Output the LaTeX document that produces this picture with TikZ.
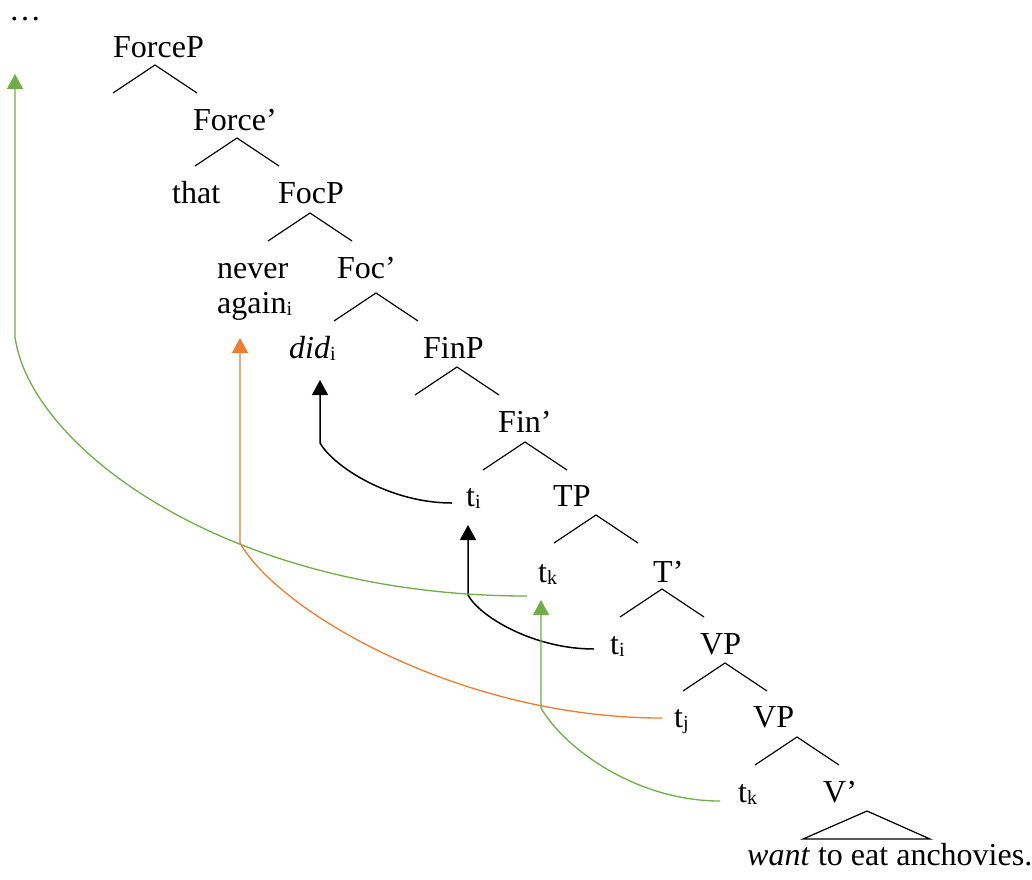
\documentclass[tikz,border=0pt]{standalone}
\usepackage{fontspec}
\setmainfont{Liberation Serif}
\usetikzlibrary{arrows.meta}
\definecolor{movegreen}{RGB}{112,173,71}
\definecolor{moveorange}{RGB}{237,125,49}
\newcommand\subidx[1]{\raisebox{-2pt}{\fontsize{20}{20}\selectfont #1}}

\begin{document}
\begin{tikzpicture}[x=1pt, y=-1pt, font=\fontsize{32}{38}\selectfont,
    word/.style={anchor=base west, inner sep=0pt},
    branch/.style={line width=1.2pt},
    move/.style={-{Triangle[width=16pt,length=15pt]}, line width=1.5pt}]
  \useasboundingbox (0,0) rectangle (1032,879);

  % 定义节点
  \node[word] (dots) at (9,20) {…};
  \node[word] (ForceP) at (113,57) {ForceP};
  \node[word] (Forcebar) at (193,130) {Force’};
  \node[word] (that) at (172,203) {that};
  \node[word] (FocP) at (278,203) {FocP};
  \node[word] (never) at (217,278) {never};
  \node[word] (again) at (217,313) {again\subidx{i}};
  \node[word] (Focbar) at (337,278) {Foc’};
  \node[word] (did) at (289,358) {\textit{did}\subidx{i}};
  \node[word] (FinP) at (423,358) {FinP};
  \node[word] (Finbar) at (498,432) {Fin’};
  \node[word] (ti1) at (466,506) {t\subidx{i}};
  \node[word] (TP) at (553,506) {TP};
  \node[word] (tk1) at (538,582) {t\subidx{k}};
  \node[word] (Tbar) at (653,582) {T’};
  \node[word] (ti2) at (610,654) {t\subidx{i}};
  \node[word] (VP1) at (700,654) {VP};
  \node[word] (tj) at (674,727) {t\subidx{j}};
  \node[word] (VP2) at (753,727) {VP};
  \node[word] (tk2) at (738,802) {t\subidx{k}};
  \node[word] (Vbar) at (823,802) {V’};
  \node[word] (want) at (747,865) {\textit{want} to eat anchovies.};

  % 绘制树枝
  \foreach \x/\y in {155/65, 237/138, 310/213, 376/293, 457/367,
                     525/442, 596/515, 662/589, 725/663, 797/737}
    \draw[branch] (\x-42,\y+28) -- (\x,\y) -- (\x+42,\y+28);
  \draw[branch] (803,839) -- (867,811) -- (930,839) -- cycle;

  % 箭头终点
  \coordinate (didtip) at ([shift={(31,22)}]did.base west);
  \coordinate (ti1tip) at ([shift={(2,19)}]ti1.base west);
  \coordinate (dotstip) at ([shift={(6,54)}]dots.base west);
  \coordinate (againtip) at ([shift={(23,25)}]again.base west);
  \coordinate (tk1tip) at ([shift={(3,18)}]tk1.base west);

  % 移位箭头
  \draw[move] ([shift={(-14,-3)}]ti1.base west)
    .. controls +(-62,0) and +(14,24) .. ([shift={(0,63)}]didtip) -- (didtip);
  \draw[move] ([shift={(-16,-5)}]ti2.base west)
    .. controls +(-60,0) and +(12,22) .. ([shift={(0,70)}]ti1tip) -- (ti1tip);
  \draw[move, movegreen, line width=1.3pt] ([shift={(-11,14)}]tk1.base west)
    .. controls +(-300,0) and +(15,110) .. ([shift={(0,263)}]dotstip) -- (dotstip);
  \draw[move, moveorange, line width=1.3pt] ([shift={(-12,-9)}]tj.base west)
    .. controls +(-200,0) and +(40,70) .. ([shift={(0,205)}]againtip) -- (againtip);
  \draw[move, movegreen, line width=1.3pt] ([shift={(-18,-1)}]tk2.base west)
    .. controls +(-84,0) and +(23,40) .. ([shift={(0,108)}]tk1tip) -- (tk1tip);
\end{tikzpicture}
\end{document}
